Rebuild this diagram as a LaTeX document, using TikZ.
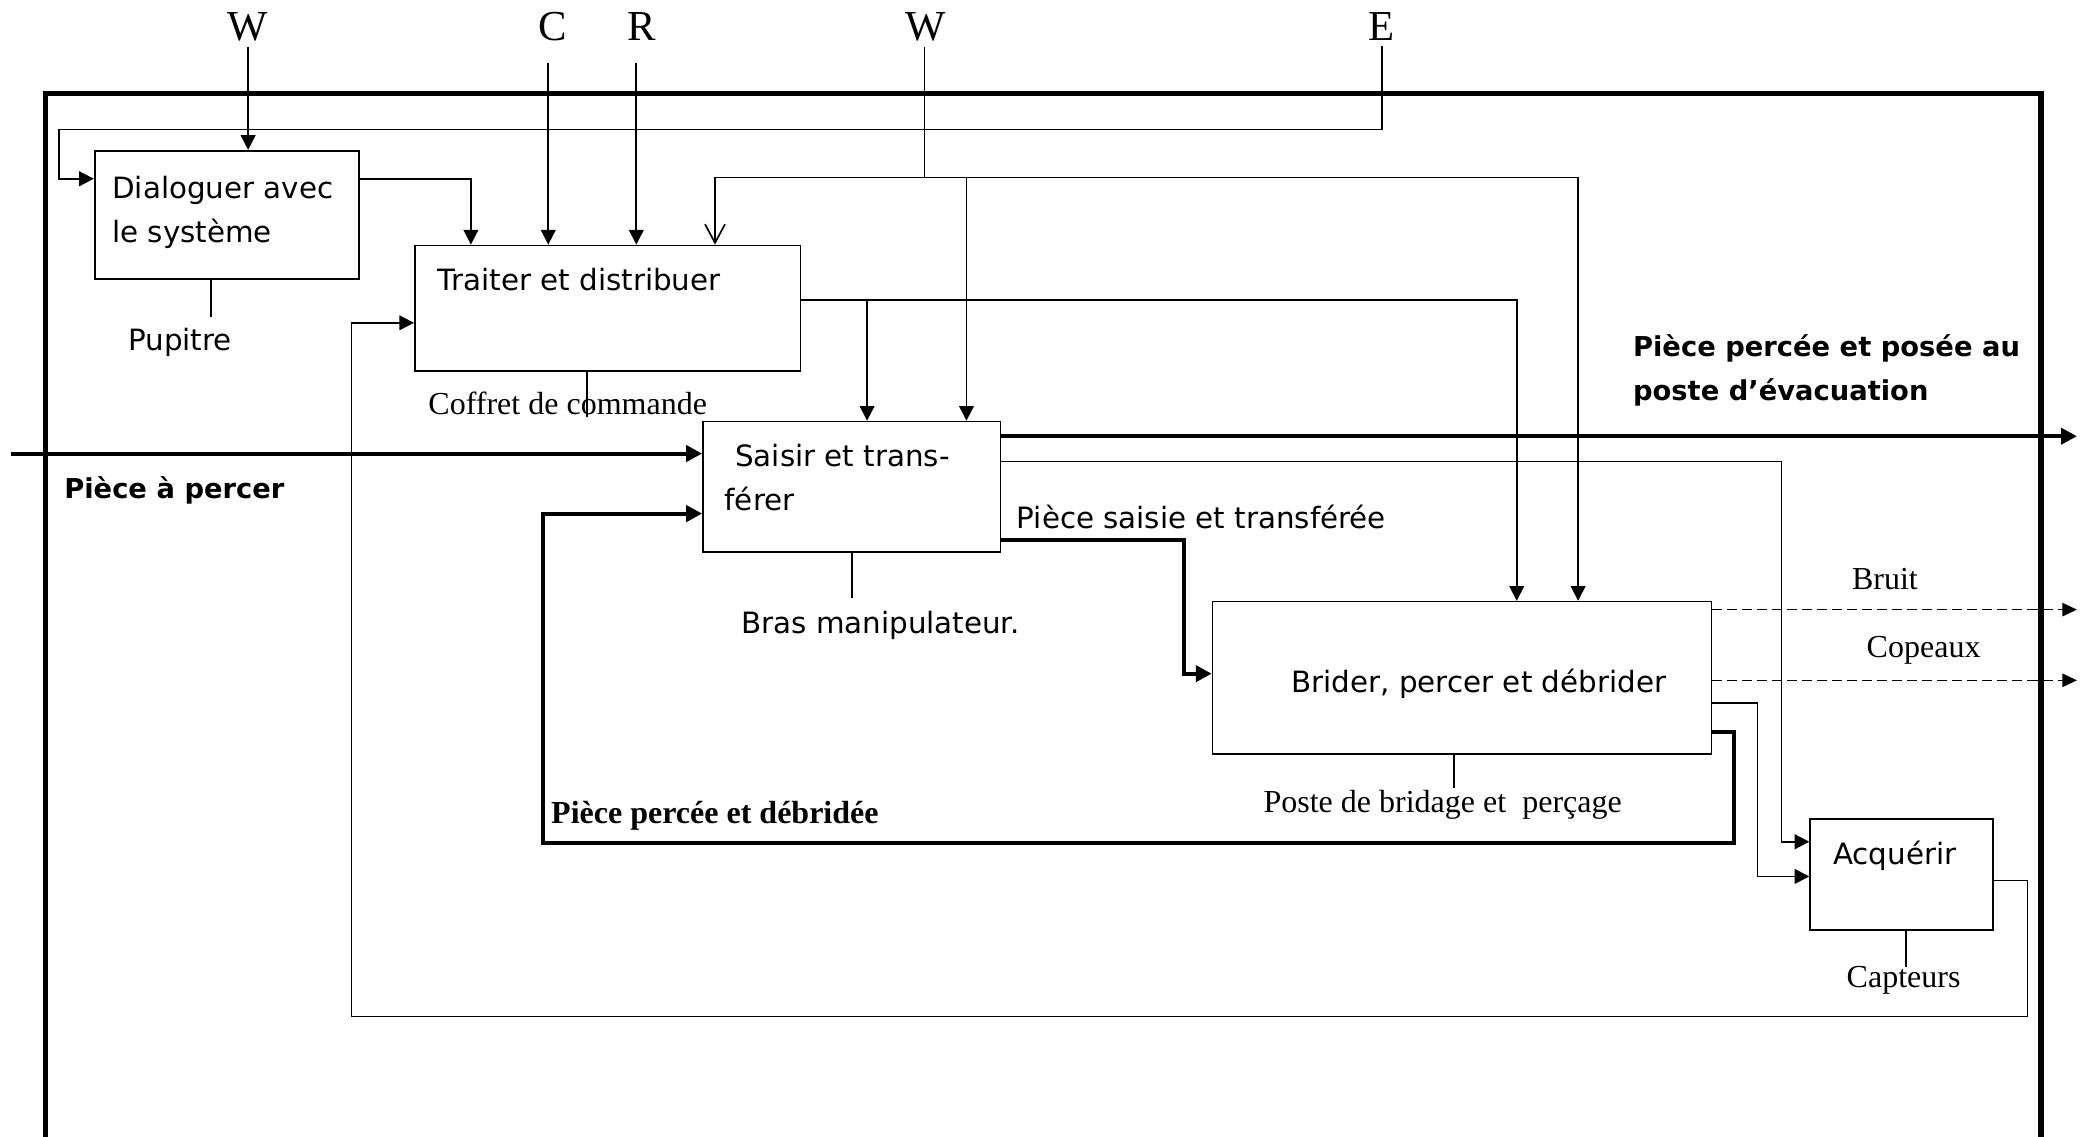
\documentclass[tikz,border=0pt]{standalone}
\usepackage{fontspec}
\setmainfont{Liberation Serif}
\newfontfamily\comic{DejaVu Sans}
\usetikzlibrary{arrows.meta}

\begin{document}
\begin{tikzpicture}[x=1pt, y=-1pt,
	boite/.style={draw, line width=1.25pt, inner sep=0pt},
	fin/.style={line width=1.25pt},
	fl/.style={line width=1.25pt, -{Triangle[length=11pt,width=11pt]}},
	ouvert/.style={line width=1.25pt, -{Straight Barb[length=14pt,width=15pt]}},
	fort/.style={line width=3pt, -{Triangle[length=12pt,width=12pt]}},
	tirets/.style={line width=1.25pt, dash pattern=on 7.5pt off 3.75pt, -{Triangle[length=11pt,width=10pt]}},
	lettre/.style={font=\fontsize{32}{38}\selectfont, inner sep=4pt},
	txt/.style={font=\comic\fontsize{22}{33}\selectfont, inner sep=0pt},
	txtb/.style={font=\comic\bfseries\fontsize{20.5}{33}\selectfont, inner sep=0pt},
	rom/.style={font=\fontsize{24}{28}\selectfont, inner sep=0pt},
	romb/.style={font=\bfseries\fontsize{24}{28}\selectfont, inner sep=0pt}]

\useasboundingbox (0,0) rectangle (1563,852);

% cadre
\draw[line width=4pt] (34,852) -- (34,70) -- (1530,70) -- (1530,852);

% donnees de controle
\node[lettre] (w1) at (186,20) {W};
\node[lettre] (c) at (414,20) {C};
\node[lettre] (r) at (481,20) {R};
\node[lettre] (w2) at (694,20) {W};
\node[lettre] (e) at (1036,20) {E};

% boites
\node[boite, minimum width=198pt, minimum height=96pt] (dia) at (170,161) {};
\node[boite, minimum width=289pt, minimum height=94pt] (trt) at (455.5,231) {};
\node[boite, minimum width=223pt, minimum height=98pt] (sai) at (638.5,365) {};
\node[boite, minimum width=374pt, minimum height=114pt] (bri) at (1096,508) {};
\node[boite, minimum width=137pt, minimum height=83pt] (acq) at (1425.5,655.5) {};

\node[txt, anchor=west, align=left] (diat) at (84,159) {Dialoguer avec\\le système};
\node[txt, anchor=base west] (trtt) at (328,218) {Traiter et distribuer};
\node[txt, anchor=west, align=left] (sait) at (543,358) {\hspace{8pt}Saisir et trans-\\férer};
\node[txt, anchor=base west] (brit) at (968,519) {Brider, percer et débrider};
\node[txt, anchor=base west] (acqt) at (1374,648) {Acquérir};

% supports
\draw[fin] ([xshift=-12pt]dia.south) -- ++(0,28);
\node[txt, anchor=base] (pup) at (135,263) {Pupitre};
\node[rom, anchor=base west] (cof) at (321,311) {Coffret de commande};
\draw[fin] ([xshift=-15.5pt]trt.south) -- ++(0,34);
\draw[fin] (sai.south) -- ++(0,34);
\node[txt, anchor=base] (bras) at (660,475) {Bras manipulateur.};
\draw[fin] ([xshift=-6pt]bri.south) -- ++(0,25);
\node[rom, anchor=base west] (pos) at (947,609) {Poste de bridage et\ \ perçage};
\draw[fin] ([xshift=3.5pt]acq.south) -- ++(0,27);
\node[rom, anchor=base] (cap) at (1427,740) {Capteurs};

% controle
\draw[fl] (w1.south) -- (w1.south |- dia.north);
\draw[fl] (e.south) |- (44,97) |- ([yshift=27pt]dia.west);
\draw[fl] ([yshift=27pt]dia.east) -| ([xshift=-102.5pt]trt.north);
\coordinate (cc) at ([xshift=-44.5pt]trt.north);
\coordinate (rr) at ([xshift=21.5pt]trt.north);
\coordinate (ct) at ([yshift=-12pt]c.south);
\draw[fl] (cc |- ct) -- (cc);
\draw[fl] (rr |- ct) -- (rr);
\coordinate (wb) at (693,133);
\draw[fin] (wb |- w2.south) -- (wb);
\draw[ouvert] (wb) -| ([xshift=80.5pt]trt.north);
\draw[fl] (wb) -| ([xshift=87pt]bri.north);
\coordinate (s2) at ([xshift=86pt]sai.north);
\draw[fl] (s2 |- wb) -- (s2);
\coordinate (tout) at ([yshift=6pt]trt.east);
\draw[fl] (tout) -| ([xshift=41pt]bri.north);
\coordinate (s1) at ([xshift=11.5pt]sai.north);
\draw[fl] (s1 |- tout) -- (s1);
\draw[fl] ([yshift=-4.5pt]acq.east) -| (1520,762) -| ([xshift=-47pt,yshift=-11pt]trt.west) -- ([yshift=-11pt]trt.west);

% flux de matiere
\coordinate (ent) at (8,340);
\draw[fort] (ent) -- (ent -| sai.west);
\node[txtb, anchor=base west] (pap) at (48,374) {Pièce à percer};
\coordinate (sor) at (1557,327);
\draw[fort] (sai.east |- sor) -- (sor);
\node[txtb, anchor=base west, align=left] (ppp) at (1224,300) {Pièce percée et posée au\\poste d’évacuation};
\draw[fl] ([yshift=19pt]sai.east) -| ([xshift=-21pt,yshift=24.5pt]acq.west) -- ([yshift=24.5pt]acq.west);
\draw[fort] ([yshift=-40pt]sai.east) -| ([xshift=-21pt,yshift=3pt]bri.west) -- ([yshift=3pt]bri.west);
\node[txt, anchor=base west] (pst) at (762,396) {Pièce saisie et transférée};
\coordinate (bru) at (1557,457);
\coordinate (cop) at (1557,510);
\draw[tirets] (bri.east |- bru) -- (bru);
\draw[tirets] (bri.east |- cop) -- (cop);
\node[rom, anchor=base] (bruit) at (1413,442) {Bruit};
\node[rom, anchor=base] (copx) at (1442,493) {Copeaux};
\draw[fl] ([yshift=-19pt]bri.east) -| ([xshift=-39pt,yshift=-1.5pt]acq.west) -- ([yshift=-1.5pt]acq.west);
\draw[fort] ([yshift=-41pt]bri.east) -| (1300,632) -| ([xshift=-119pt,yshift=-20pt]sai.west) -- ([yshift=-20pt]sai.west);
\node[romb, anchor=base west] (ppd) at (413,617) {Pièce percée et débridée};
\end{tikzpicture}
\end{document}
